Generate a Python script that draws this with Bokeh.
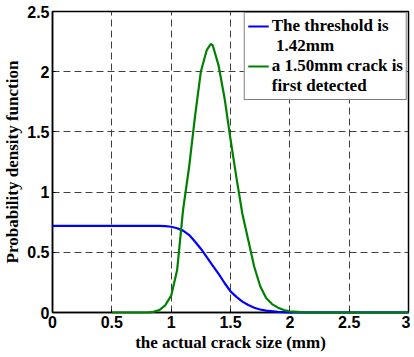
from bokeh.plotting import figure
from bokeh.models import Legend, LegendItem, FixedTicker, Range1d
from bokeh.embed import file_html
from bokeh.resources import INLINE

# Data
x_threshold = [0.0, 0.5, 0.9, 0.95, 1.0, 1.05, 1.1, 1.15, 1.2, 1.25, 1.3, 1.35, 1.4,
               1.45, 1.5, 1.55, 1.6, 1.65, 1.7, 1.75, 1.8, 1.9, 2.0, 2.2, 3.0]
pdf_threshold = [0.72, 0.72, 0.72, 0.718, 0.712, 0.70, 0.68, 0.645, 0.59, 0.53, 0.46, 0.39, 0.32,
                 0.245, 0.175, 0.13, 0.09, 0.062, 0.04, 0.025, 0.015, 0.005, 0.001, 0.0, 0.0]

x_detect = [0.5, 0.8, 0.85, 0.9, 0.95, 1.0, 1.05, 1.1, 1.15, 1.2, 1.25, 1.3, 1.333, 1.35,
            1.4, 1.45, 1.5, 1.55, 1.6, 1.65, 1.7, 1.75, 1.8, 1.85, 1.9, 1.95, 2.0, 2.1, 2.2, 3.0]
pdf_detect = [0.0, 0.0, 0.005, 0.02, 0.06, 0.14, 0.35, 0.85, 1.2, 1.62, 2.0, 2.18, 2.23, 2.22,
              2.05, 1.78, 1.44, 1.12, 0.82, 0.6, 0.38, 0.22, 0.12, 0.07, 0.04, 0.02, 0.01, 0.003, 0.0, 0.0]

x_ticks = [0, 0.5, 1, 1.5, 2, 2.5, 3]
x_tick_labels = ["0", "0.5", "1", "1.5", "2", "2.5", "3"]
y_ticks = [0, 0.5, 1, 1.5, 2, 2.5]
y_tick_labels = ["0", "0.5", "1", "1.5", "2", "2.5"]

legend_lines_1 = ["The threshold is", " 1.42mm"]
legend_lines_2 = ["a 1.50mm crack is", "first detected"]
x_label = "the actual crack size (mm)"
y_label = "Probability density function"

p = figure(frame_width=356, frame_height=301, output_backend="svg", toolbar_location=None,
           x_range=Range1d(0, 3), y_range=Range1d(0, 2.5),
           min_border_left=51, min_border_right=2, min_border_top=11, min_border_bottom=40)

p.background_fill_color = "white"
p.border_fill_color = "white"
p.outline_line_color = "black"
p.outline_line_width = 1.5

r1 = p.line(x_threshold, pdf_threshold, line_color="#0000ff", line_width=2.2, level="overlay")
r2 = p.line(x_detect, pdf_detect, line_color="#008000", line_width=2.2, level="overlay")
blank = p.line([], [], line_alpha=0)

for ax, ticks, labels in ((p.xaxis[0], x_ticks, x_tick_labels), (p.yaxis[0], y_ticks, y_tick_labels)):
    ax.ticker = FixedTicker(ticks=ticks)
    ax.major_label_overrides = {t: l for t, l in zip(ticks, labels)}
    ax.major_label_text_font = "Liberation Sans"
    ax.major_label_text_font_style = "bold"
    ax.major_label_text_font_size = "16px"
    ax.major_label_text_color = "black"
    ax.axis_line_color = "black"
    ax.axis_line_width = 1.5
    ax.major_tick_in = 3
    ax.major_tick_out = 0
    ax.minor_tick_in = 0
    ax.minor_tick_out = 0
    ax.axis_label_text_font = "Liberation Serif"
    ax.axis_label_text_font_style = "bold"
    ax.axis_label_text_font_size = "17px"
    ax.axis_label_text_color = "black"
    ax.major_label_standoff = 3
    ax.axis_label_standoff = 2

p.xaxis.axis_label = x_label
p.yaxis.axis_label = y_label

for g in (p.xgrid[0], p.ygrid[0]):
    g.grid_line_color = "#404040"
    g.grid_line_dash = "7 4"
    g.grid_line_width = 1
p.xgrid.ticker = FixedTicker(ticks=x_ticks[1:-1])
p.ygrid.ticker = FixedTicker(ticks=y_ticks[1:-1])

legend = Legend(items=[LegendItem(label=legend_lines_1[0], renderers=[r1]),
                       LegendItem(label=legend_lines_1[1], renderers=[blank]),
                       LegendItem(label=legend_lines_2[0], renderers=[r2]),
                       LegendItem(label=legend_lines_2[1], renderers=[blank])],
                location="top_right")
legend.label_text_font = "Liberation Serif"
legend.label_text_font_style = "bold"
legend.label_text_font_size = "17px"
legend.label_text_color = "black"
legend.label_height = 18
legend.label_standoff = 3
legend.glyph_height = 18
legend.glyph_width = 21
legend.border_line_color = "black"
legend.border_line_width = 1.5
legend.background_fill_alpha = 1
legend.margin = 1
legend.padding = 3
legend.spacing = 0
p.add_layout(legend)

open("out.html", "w").write(file_html(p, INLINE))
